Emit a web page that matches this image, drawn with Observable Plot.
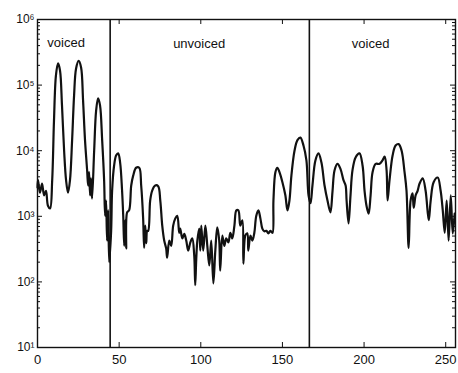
<!DOCTYPE html>
<html><head><meta charset="utf-8">
<script src="https://cdn.jsdelivr.net/npm/d3@7"></script>
<script src="https://cdn.jsdelivr.net/npm/@observablehq/plot@0.6"></script>
<style>body{margin:0;background:#fff}</style>
</head><body><div id="chart"></div>
<script>
const sampleIndex = [0,0.3,1.5,2.8,4,5.2,6.4,7.7,9,10.1,11.3,12.6,13.8,15,16.3,17.5,18.7,19.9,21.2,22.4,23.6,25.2,26.7,27.9,29.1,30.4,31,31.6,32.2,32.8,33.4,34.7,35.9,37.1,38.3,39.6,40.8,41.4,42,42.6,43.3,43.9,45.1,45.7,46.9,48.2,49.4,50.6,51.8,52.5,53.1,53.7,54.3,54.9,56.1,57.4,58.6,60.4,62.3,63.5,64.7,65.3,66,66.6,67.2,67.8,69,70.2,72.1,73.9,75.2,76.4,77.6,78.8,79.4,80.7,81.9,83.1,84.4,85.6,86.8,87.4,88.7,89.9,91.1,92.3,93.6,94.8,96,96.6,97.2,97.9,99.1,99.7,100.3,101.5,102.8,104,105.2,106.4,107.7,108.9,110.1,111.3,111.9,113.2,114.4,115.6,116.9,118.1,119.3,120.6,121.8,123,124.2,125.5,126.1,127.3,128.5,129.1,130.4,131.6,132.8,134,135.3,136.5,137.7,138.9,140.2,141.4,142.6,143.9,144.5,145.7,146.9,148.2,150,151.8,153.1,154.3,155.5,157.4,159.2,161,162.9,164.7,166,167.2,168.4,170.2,172.1,173.9,175.8,177.6,179.4,180.7,181.9,183.7,185.6,187.4,188.7,189.3,190.5,191.7,192.9,194.8,197.2,199.1,200.3,201.5,202.8,204,205.2,207.1,209.5,211.3,212.6,213.8,214.4,215.6,217.5,219.3,221.2,223,224.8,226,227.3,228.5,229.7,230.4,231.6,232.8,234,235.9,237.7,239.6,240.8,242.6,245.1,246.9,248.2,249.4,250.6,251.8,253.1,254.3,255.5];
const power = [2750,3550,2290,3160,2090,2450,1450,1320,3550,28800,141000,214000,166000,49000,10000,3550,2290,3550,14500,69000,178000,234000,186000,59000,14500,5000,2950,4700,2090,3800,1860,10000,40700,63000,49000,14500,3550,1020,1740,427,1230,200,600,2450,5900,8500,9100,6600,2450,1020,355,870,324,1150,1230,2950,4170,5500,5500,2950,930,330,720,390,600,600,1740,2450,2950,2880,1740,720,427,324,234,427,355,720,930,1020,560,650,460,540,427,300,400,460,250,89,214,427,650,300,720,300,720,355,178,427,95,300,680,427,148,510,355,460,400,560,460,720,1230,1230,720,870,190,510,550,300,510,427,560,1020,1230,930,650,590,600,550,600,560,1740,4700,5500,4700,3300,2090,1230,1740,4170,10000,14500,15800,12000,7100,2090,1580,2950,7100,9100,6600,2950,1740,1150,2450,5000,6300,5250,3550,2950,1740,780,2090,5000,7900,9100,5900,2450,1450,1100,2090,4700,6300,6300,7100,8100,5000,1740,3550,8500,12000,12600,10000,4700,2450,330,1740,2240,1350,2090,2450,3160,3800,2450,870,1740,3300,3900,2450,1230,560,1740,427,2090,550,1100];
const boundaries = [44.5, 166.5];
const regionLabels = ["voiced", "unvoiced", "voiced"];
const regionLabelX = [17.5, 99, 204];
const regionLabelY = [4.4e5, 4.3e5, 4.3e5];
const xTicks = [0, 50, 100, 150, 200, 250];
const yTicks = [1e1, 1e2, 1e3, 1e4, 1e5, 1e6];
const yTickLabels = ["10¹", "10²", "10³", "10⁴", "10⁵", "10⁶"];

const series = sampleIndex.map((x, i) => ({x, y: power[i]}));
const labels = regionLabels.map((t, i) => ({t, x: regionLabelX[i], y: regionLabelY[i]}));
const yMinor = [];
for (let d = 1; d < 6; d++) for (let m = 2; m <= 9; m++) yMinor.push(m * 10 ** d);

const W = 458, H = 373, mL = 37, mR = 3, mT = 19, mB = 26;
const pw = W - mL - mR, ph = H - mT - mB;

const chart = Plot.plot({
  width: W, height: H,
  marginLeft: mL, marginRight: mR, marginTop: mT, marginBottom: mB,
  style: {fontFamily: "Liberation Sans, Arial, sans-serif", fontSize: "12px", color: "#111"},
  x: {domain: [0, 256]},
  y: {type: "log", domain: [10, 1e6]},
  marks: [
    Plot.frame({stroke: "#111", strokeWidth: 1.4}),
    Plot.tickY(yTicks, {insetRight: pw - 5, stroke: "#111"}),
    Plot.tickY(yTicks, {insetLeft: pw - 5, stroke: "#111"}),
    Plot.tickY(yMinor, {insetRight: pw - 3, stroke: "#111"}),
    Plot.tickY(yMinor, {insetLeft: pw - 3, stroke: "#111"}),
    Plot.tickX(xTicks, {insetTop: ph - 5, stroke: "#111"}),
    Plot.tickX(xTicks, {insetBottom: ph - 5, stroke: "#111"}),
    Plot.axisY({ticks: yTicks, tickSize: 0, tickPadding: 3, label: null,
      tickFormat: (d) => yTickLabels[yTicks.indexOf(d)], fontSize: 12}),
    Plot.axisX({ticks: xTicks, tickSize: 0, tickPadding: 7, label: null, fontSize: 13}),
    Plot.ruleX(boundaries, {stroke: "#111", strokeWidth: 1.6}),
    Plot.line(series, {x: "x", y: "y", stroke: "#111", strokeWidth: 2.2, curve: "catmull-rom"}),
    Plot.text(labels, {x: "x", y: "y", text: "t", fontSize: 13, fill: "#111"})
  ]
});
document.getElementById("chart").appendChild(chart);
</script>
</body></html>
